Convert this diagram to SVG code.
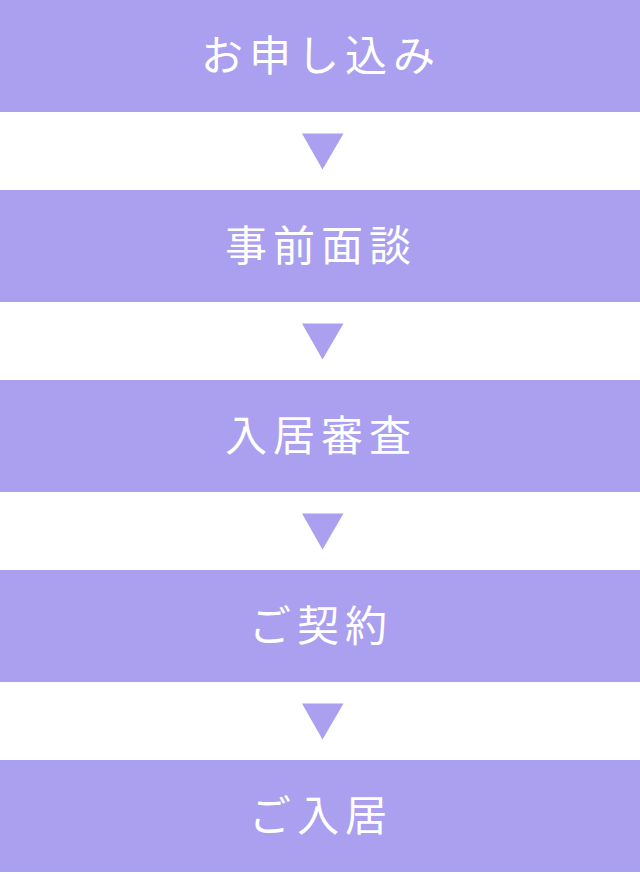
<svg xmlns="http://www.w3.org/2000/svg" width="640" height="874" viewBox="0 0 640 874">
<style>
.box{fill:#aba0ef}
.arr{fill:#aba0ef}
.lbl{fill:#ffffff;font-family:"Noto Sans CJK JP","Noto Sans",sans-serif;font-size:42px;font-weight:400;letter-spacing:6px;text-anchor:middle;dominant-baseline:central}
</style>
<rect width="640" height="874" fill="#ffffff"/>
<g id="n1"><rect class="box" x="0" y="0" width="640" height="112"/><text class="lbl" x="321" y="52">お申し込み</text></g>
<g id="n2"><rect class="box" x="0" y="190" width="640" height="112"/><text class="lbl" x="321" y="242">事前面談</text></g>
<g id="n3"><rect class="box" x="0" y="380" width="640" height="112"/><text class="lbl" x="321" y="432">入居審査</text></g>
<g id="n4"><rect class="box" x="0" y="570" width="640" height="112"/><text class="lbl" x="321" y="622">ご契約</text></g>
<g id="n5"><rect class="box" x="0" y="760" width="640" height="112"/><text class="lbl" x="321" y="812">ご入居</text></g>
<g id="connectors">
<polygon class="arr" points="302,133.5 343.5,133.5 322.5,169.5"/>
<polygon class="arr" points="302,323.5 343.5,323.5 322.5,359.5"/>
<polygon class="arr" points="302,513.5 343.5,513.5 322.5,549.5"/>
<polygon class="arr" points="302,703.5 343.5,703.5 322.5,739.5"/>
</g>
</svg>
